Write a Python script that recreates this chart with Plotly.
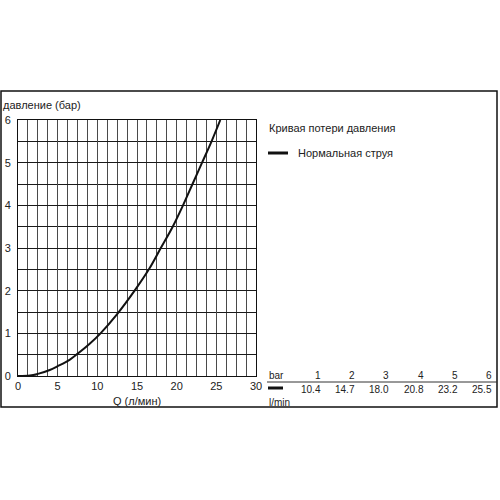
import plotly.graph_objects as go

# Curve data (Q in l/min, pressure in bar)
flow_q = [0, 1.5, 2.5, 4, 5, 6.5, 7.5, 9, 10.4, 12.5, 14.7, 16.5, 18.0, 19.5, 20.8, 22.0, 23.2, 24.4, 25.5]
pressure = [0, 0.01, 0.05, 0.14, 0.23, 0.38, 0.52, 0.75, 1.0, 1.45, 2.0, 2.5, 3.0, 3.5, 4.0, 4.5, 5.0, 5.5, 6.0]

# Table values
table_bar = ["1", "2", "3", "4", "5", "6"]
table_lmin = ["10.4", "14.7", "18.0", "20.8", "23.2", "25.5"]

x_ticks = [0, 5, 10, 15, 20, 25, 30]
y_ticks = [0, 1, 2, 3, 4, 5, 6]

FONT = "Liberation Sans, Arial, sans-serif"
TXT = "#222222"

fig = go.Figure()
fig.add_trace(go.Scatter(x=flow_q, y=pressure, mode="lines",
                         line=dict(color="#111111", width=2, shape="spline"),
                         showlegend=False, hoverinfo="skip"))

# Plot area geometry in pixels
L, R, T, B = 18, 256, 120, 376
W = R - L
H = B - T
def px(xp):
    return (xp - L) / W
def py(yp):
    return (B - yp) / H

fig.update_layout(
    width=500, height=500,
    margin=dict(l=L, r=500 - R, t=T, b=500 - B),
    paper_bgcolor="white", plot_bgcolor="white",
    font=dict(family=FONT, size=11, color=TXT),
    xaxis=dict(range=[0, 30], tickvals=x_ticks, showgrid=True, gridcolor="#4a4a4a", gridwidth=1,
               minor=dict(dtick=1.25, tick0=0, showgrid=True, gridcolor="#4a4a4a", gridwidth=1),
               showline=True, linecolor="#111111", linewidth=1, mirror=True, automargin=False,
               zeroline=False, ticks="", tickfont=dict(size=11, color=TXT)),
    yaxis=dict(range=[0, 6], tickvals=y_ticks, showgrid=True, gridcolor="#1a1a1a", gridwidth=1,
               minor=dict(dtick=0.5, tick0=0, showgrid=True, gridcolor="#1a1a1a", gridwidth=1),
               showline=True, linecolor="#111111", linewidth=1, mirror=True, automargin=False,
               zeroline=False, ticks="", ticklabelstandoff=4, tickfont=dict(size=11, color=TXT)),
)

shapes = []
# outer frame
shapes.append(dict(type="rect", xref="paper", yref="paper",
                   x0=px(1), x1=px(497), y0=py(407), y1=py(91),
                   line=dict(color="#111111", width=1.5)))
# legend line
shapes.append(dict(type="line", xref="paper", yref="paper",
                   x0=px(268), x1=px(288), y0=py(153), y1=py(153),
                   line=dict(color="#111111", width=3)))
# table separator
shapes.append(dict(type="line", xref="paper", yref="paper",
                   x0=px(267), x1=px(497), y0=py(382), y1=py(382),
                   line=dict(color="#333333", width=1)))
# table dash
shapes.append(dict(type="line", xref="paper", yref="paper",
                   x0=px(268), x1=px(283), y0=py(388), y1=py(388),
                   line=dict(color="#111111", width=3)))
fig.update_layout(shapes=shapes)

ann = []
def add(text, x, y, xanchor="left", size=11):
    ann.append(dict(text=text, xref="paper", yref="paper", x=px(x), y=py(y),
                    xanchor=xanchor, yanchor="middle", showarrow=False,
                    font=dict(family=FONT, size=size, color=TXT)))

add("давление (бар)", 1, 105)
add("Q (л/мин)", 137, 401, "center")
add("Кривая потери давления", 267, 128)
add("Нормальная струя", 296, 153)
add("bar", 267, 375, size=10)
add("l/min", 267, 402, size=10)
col_right = [323 + i * 34.2 for i in range(len(table_bar))]
for xr, b, q in zip(col_right, table_bar, table_lmin):
    add(b, xr, 375, "right", size=10)
    add(q, xr, 389, "right", size=10)
fig.update_layout(annotations=ann)

fig.write_html("out.html", config={"displayModeBar": False, "staticPlot": True},
               post_script="document.body.style.margin='0';document.body.style.padding='0';"
                           "document.body.style.overflow='hidden';")
